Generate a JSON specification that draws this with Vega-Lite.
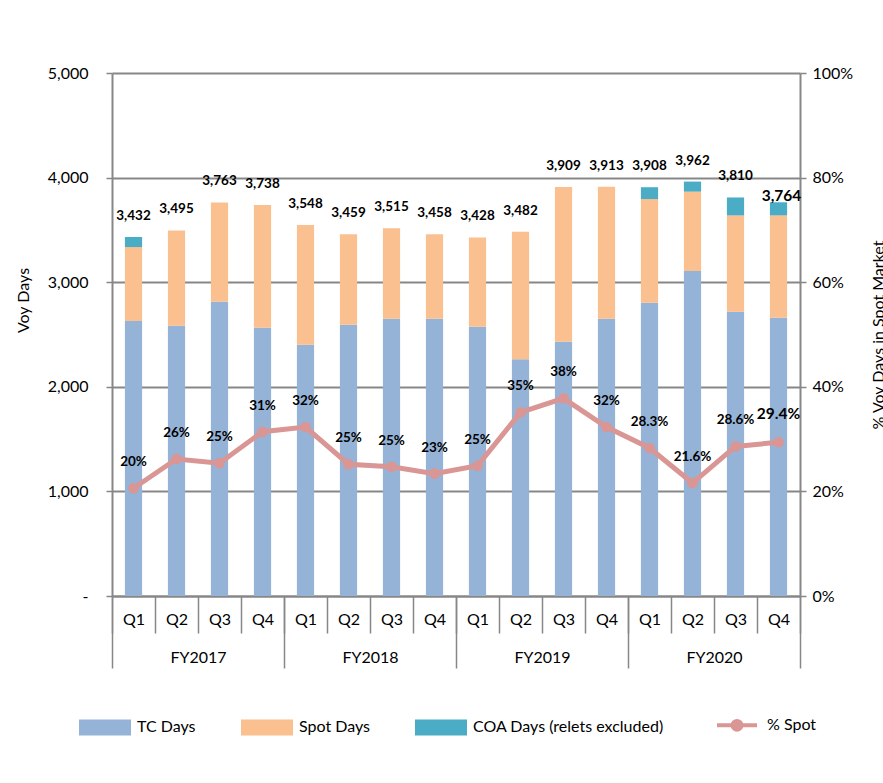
{
  "$schema": "https://vega.github.io/schema/vega-lite/v6.json",
  "width": 688,
  "height": 523,
  "autosize": {"type": "none"},
  "padding": {"left": 112, "top": 73, "right": 83, "bottom": 187},
  "background": "white",
  "data": {
    "values": [
      {"period": "2017Q1", "fy": "FY2017", "TC Days": 2629, "Spot Days": 707, "COA Days (relets excluded)": 96, "total": 3432, "pct": 0.206, "pctLabel": "20%"},
      {"period": "2017Q2", "fy": "FY2017", "TC Days": 2584, "Spot Days": 911, "COA Days (relets excluded)": 0, "total": 3495, "pct": 0.262, "pctLabel": "26%"},
      {"period": "2017Q3", "fy": "FY2017", "TC Days": 2814, "Spot Days": 949, "COA Days (relets excluded)": 0, "total": 3763, "pct": 0.254, "pctLabel": "25%"},
      {"period": "2017Q4", "fy": "FY2017", "TC Days": 2565, "Spot Days": 1173, "COA Days (relets excluded)": 0, "total": 3738, "pct": 0.314, "pctLabel": "31%"},
      {"period": "2018Q1", "fy": "FY2018", "TC Days": 2403, "Spot Days": 1145, "COA Days (relets excluded)": 0, "total": 3548, "pct": 0.323, "pctLabel": "32%"},
      {"period": "2018Q2", "fy": "FY2018", "TC Days": 2594, "Spot Days": 865, "COA Days (relets excluded)": 0, "total": 3459, "pct": 0.252, "pctLabel": "25%"},
      {"period": "2018Q3", "fy": "FY2018", "TC Days": 2651, "Spot Days": 864, "COA Days (relets excluded)": 0, "total": 3515, "pct": 0.247, "pctLabel": "25%"},
      {"period": "2018Q4", "fy": "FY2018", "TC Days": 2651, "Spot Days": 807, "COA Days (relets excluded)": 0, "total": 3458, "pct": 0.234, "pctLabel": "23%"},
      {"period": "2019Q1", "fy": "FY2019", "TC Days": 2575, "Spot Days": 853, "COA Days (relets excluded)": 0, "total": 3428, "pct": 0.249, "pctLabel": "25%"},
      {"period": "2019Q2", "fy": "FY2019", "TC Days": 2263, "Spot Days": 1219, "COA Days (relets excluded)": 0, "total": 3482, "pct": 0.351, "pctLabel": "35%"},
      {"period": "2019Q3", "fy": "FY2019", "TC Days": 2431, "Spot Days": 1478, "COA Days (relets excluded)": 0, "total": 3909, "pct": 0.378, "pctLabel": "38%"},
      {"period": "2019Q4", "fy": "FY2019", "TC Days": 2651, "Spot Days": 1262, "COA Days (relets excluded)": 0, "total": 3913, "pct": 0.323, "pctLabel": "32%"},
      {"period": "2020Q1", "fy": "FY2020", "TC Days": 2804, "Spot Days": 991, "COA Days (relets excluded)": 113, "total": 3908, "pct": 0.283, "pctLabel": "28.3%"},
      {"period": "2020Q2", "fy": "FY2020", "TC Days": 3107, "Spot Days": 759, "COA Days (relets excluded)": 96, "total": 3962, "pct": 0.216, "pctLabel": "21.6%"},
      {"period": "2020Q3", "fy": "FY2020", "TC Days": 2718, "Spot Days": 921, "COA Days (relets excluded)": 171, "total": 3810, "pct": 0.286, "pctLabel": "28.6%"},
      {"period": "2020Q4", "fy": "FY2020", "TC Days": 2661, "Spot Days": 978, "COA Days (relets excluded)": 125, "total": 3764, "pct": 0.294, "pctLabel": "29.4%"}
    ]
  },
  "layer": [
    {
      "layer": [
        {
          "layer": [
            {
              "transform": [{"fold": ["TC Days", "Spot Days", "COA Days (relets excluded)"], "as": ["series", "days"]}],
              "mark": {"type": "bar", "width": {"band": 0.4}},
              "encoding": {
                "x": {
                  "field": "period", "type": "nominal", "sort": null,
                  "scale": {"paddingInner": 0, "paddingOuter": 0},
                  "axis": {"title": null, "labelAngle": 0, "tickBand": "extent", "tickSize": 37, "labelPadding": -22, "labelExpr": "substring(datum.label, 4)", "grid": false, "domain": true}
                },
                "y": {
                  "field": "days", "type": "quantitative", "stack": "zero", "title": "Voy Days",
                  "scale": {"domain": [0, 5000], "nice": false},
                  "axis": {"orient": "left", "values": [0, 1000, 2000, 3000, 4000, 5000], "format": ",.0f", "labelExpr": "datum.value == 0 ? '-' : datum.label", "tickSize": 6, "labelPadding": 18, "titlePadding": 16, "titleY": 227, "grid": true}
                },
                "color": {
                  "field": "series", "type": "nominal",
                  "scale": {"domain": ["TC Days", "Spot Days", "COA Days (relets excluded)", "% Spot"], "range": ["#95b3d7", "#fac090", "#4bacc6", "#d99694"]},
                  "legend": {
                    "title": null, "orient": "none", "legendX": -15, "legendY": 644, "direction": "horizontal", "columns": 4, "padding": 0,
                    "columnPadding": 45, "labelOffset": 24, "symbolSize": 2704, "symbolOpacity": 1, "labelFontSize": 16, "labelFont": "Lato", "labelColor": "#000", "labelLimit": 400,
                    "encode": {
                      "symbols": {
                        "update": {
                          "shape": {"signal": "datum.value === '% Spot' ? 'M-0.9,0H1.1M-0.12,0A0.22,0.22 0 1,1 0.32,0A0.22,0.22 0 1,1 -0.12,0' : 'M-1,-0.31H1V0.31H-1Z'"},
                          "size": {"signal": "datum.value === '% Spot' ? 1600 : 2704"},
                          "fill": {"scale": "color", "field": "value"},
                          "stroke": {"scale": "color", "field": "value"},
                          "strokeWidth": {"signal": "datum.value === '% Spot' ? 4 : 0"},
                          "opacity": {"value": 1}
                        }
                      }
                    }
                  }
                },
                "order": {"field": "series", "sort": "descending"}
              }
            },
            {
              "transform": [{"filter": "datum.period != '2020Q4'"}],
              "mark": {"type": "text", "dy": -21, "fontWeight": "bold", "fontSize": 13.5, "font": "Lato", "color": "#000"},
              "encoding": {
                "x": {"field": "period", "type": "nominal", "sort": null},
                "y": {"field": "total", "type": "quantitative", "title": "Voy Days"},
                "text": {"field": "total", "type": "quantitative", "format": ",.0f"}
              }
            },
            {
              "transform": [{"filter": "datum.period == '2020Q4'"}],
              "mark": {"type": "text", "dy": -6, "dx": 3, "fontWeight": "bold", "fontSize": 15.5, "font": "Lato", "color": "#000"},
              "encoding": {
                "x": {"field": "period", "type": "nominal", "sort": null},
                "y": {"field": "total", "type": "quantitative", "title": "Voy Days"},
                "text": {"field": "total", "type": "quantitative", "format": ",.0f"}
              }
            }
          ]
        },
        {
          "layer": [
            {
              "mark": {"type": "line", "strokeWidth": 5},
              "encoding": {
                "x": {"field": "period", "type": "nominal", "sort": null},
                "y": {
                  "field": "pct", "type": "quantitative", "title": "% Voy Days in Spot Market",
                  "scale": {"domain": [0, 1], "nice": false},
                  "axis": {"orient": "right", "values": [0, 0.2, 0.4, 0.6, 0.8, 1], "format": ".0%", "grid": false, "tickSize": 6, "labelPadding": 6, "titleAngle": 270, "titlePadding": 34}
                },
                "color": {"datum": "% Spot"}
              }
            },
            {
              "mark": {"type": "point", "filled": true, "size": 115, "opacity": 1, "color": "#d99694"},
              "encoding": {
                "x": {"field": "period", "type": "nominal", "sort": null},
                "y": {"field": "pct", "type": "quantitative"}
              }
            },
            {
              "transform": [{"filter": "datum.period != '2020Q4'"}],
              "mark": {"type": "text", "dy": -26, "fontWeight": "bold", "fontSize": 13.5, "font": "Lato", "color": "#000"},
              "encoding": {
                "x": {"field": "period", "type": "nominal", "sort": null},
                "y": {"field": "pct", "type": "quantitative"},
                "text": {"field": "pctLabel"}
              }
            },
            {
              "transform": [{"filter": "datum.period == '2020Q4'"}],
              "mark": {"type": "text", "dy": -28, "fontWeight": "bold", "fontSize": 15.5, "font": "Lato", "color": "#000"},
              "encoding": {
                "x": {"field": "period", "type": "nominal", "sort": null},
                "y": {"field": "pct", "type": "quantitative"},
                "text": {"field": "pctLabel"}
              }
            }
          ]
        }
      ],
      "resolve": {"scale": {"y": "independent"}, "axis": {"y": "independent"}}
    },
    {
      "mark": {"type": "text", "opacity": 0},
      "encoding": {
        "x": {
          "field": "fy", "type": "nominal",
          "scale": {"paddingInner": 0, "paddingOuter": 0},
          "axis": {"orient": "bottom", "title": null, "labelAngle": 0, "tickBand": "extent", "tickSize": 72, "labelPadding": -19, "domain": false, "grid": false}
        },
        "text": {"value": ""}
      }
    }
  ],
  "resolve": {"scale": {"x": "independent", "y": "independent"}, "axis": {"x": "independent", "y": "independent"}},
  "config": {
    "font": "Lato",
    "view": {"stroke": null},
    "axis": {
      "labelFont": "Lato", "titleFont": "Lato", "labelFontSize": 16, "titleFontSize": 16, "titleFontWeight": "normal",
      "labelColor": "#000", "titleColor": "#000",
      "domainColor": "#878787", "tickColor": "#878787", "gridColor": "#878787",
      "domainWidth": 2, "tickWidth": 1.5, "gridWidth": 2
    }
  }
}
